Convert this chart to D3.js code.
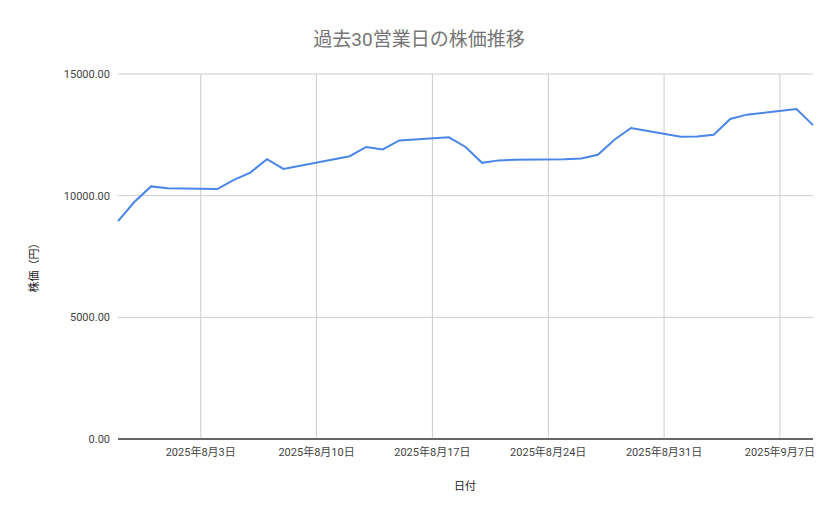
<!DOCTYPE html>
<html><head><meta charset="utf-8">
<script src="https://cdn.jsdelivr.net/npm/d3@7"></script>
<style>body{margin:0;background:#fff}text{font-family:Roboto,"Noto Sans CJK JP",sans-serif}</style>
</head><body><svg id="c" width="839" height="519"></svg>
<script>
const dates=["2025-07-29","2025-07-30","2025-07-31","2025-08-01","2025-08-04","2025-08-05","2025-08-06","2025-08-07","2025-08-08","2025-08-12","2025-08-13","2025-08-14","2025-08-15","2025-08-18","2025-08-19","2025-08-20","2025-08-21","2025-08-22","2025-08-25","2025-08-26","2025-08-27","2025-08-28","2025-08-29","2025-09-01","2025-09-02","2025-09-03","2025-09-04","2025-09-05","2025-09-08","2025-09-09"];
const prices=[8950,9750,10380,10300,10270,10650,10950,11500,11100,11620,12000,11900,12270,12400,12000,11350,11450,11480,11500,11530,11680,12300,12780,12420,12430,12500,13150,13330,13560,12900];
const xTicks=["2025-08-03","2025-08-10","2025-08-17","2025-08-24","2025-08-31","2025-09-07"];
const yTicks=[0,5000,10000,15000];
const title="過去30営業日の株価推移", xLabel="日付", yLabel="株価（円）";
const p=d3.timeParse("%Y-%m-%d");
const svg=d3.select("#c");
const L=118,R=813,T=74,B=439;
const x=d3.scaleTime().domain([p(dates[0]),p(dates[dates.length-1])]).range([L,R]);
const y=d3.scaleLinear().domain([0,15000]).range([B,T]);
const g=svg.append("g");
yTicks.forEach(v=>{
 g.append("line").attr("x1",L).attr("x2",R).attr("y1",y(v)).attr("y2",y(v)).attr("stroke",v===0?"#333":"#ccc");
 g.append("text").attr("x",L-8).attr("y",y(v)+4).attr("text-anchor","end").attr("font-size",11).attr("fill","#444").text(d3.format(".2f")(v));
});
xTicks.forEach(d=>{const t=p(d);
 g.append("line").attr("x1",x(t)).attr("x2",x(t)).attr("y1",T).attr("y2",B).attr("stroke","#ccc");
 g.append("text").attr("x",x(t)).attr("y",B+17).attr("text-anchor","middle").attr("font-size",11).attr("fill","#444").text(d3.timeFormat("%Y年%-m月%-d日")(t));
});
g.append("line").attr("x1",L).attr("x2",R).attr("y1",B).attr("y2",B).attr("stroke","#333");
g.append("path").datum(dates.map((d,i)=>[p(d),prices[i]])).attr("fill","none").attr("stroke","#4a86e8").attr("stroke-width",2)
 .attr("d",d3.line().x(d=>x(d[0])).y(d=>y(d[1])));
svg.append("text").attr("x",419).attr("y",46).attr("text-anchor","middle").attr("font-size",19).attr("fill","#757575").text(title);
svg.append("text").attr("x",465).attr("y",490).attr("text-anchor","middle").attr("font-size",11).attr("fill","#222").text(xLabel);
svg.append("text").attr("transform","translate(38,265) rotate(-90)").attr("text-anchor","middle").attr("font-size",11).attr("fill","#222").text(yLabel);
</script></body></html>
